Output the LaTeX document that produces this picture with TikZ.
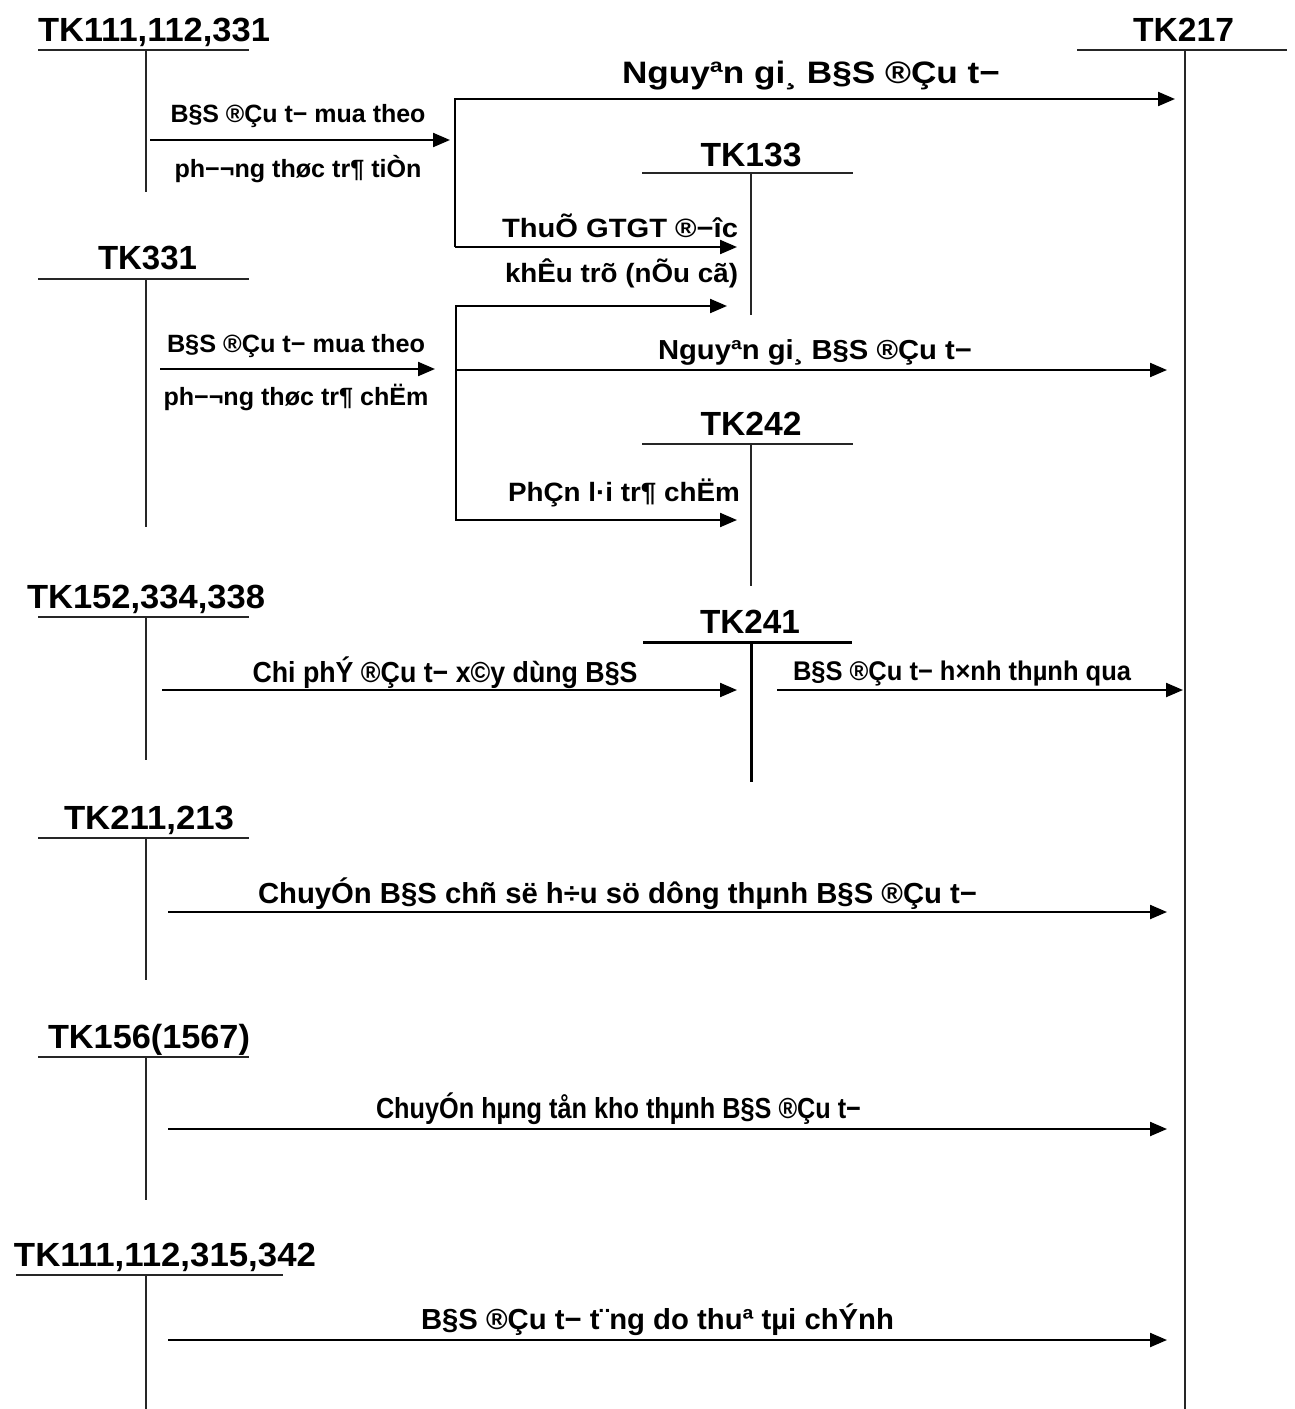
\documentclass[tikz,border=0pt]{standalone}
\usepackage{fontspec}
\setmainfont{Liberation Sans}
\usetikzlibrary{arrows.meta}
\newlength\fitlen
\newcommand\fitt[3]{\fontsize{#1}{#1}\selectfont\bfseries\settowidth\fitlen{#3}\pgfmathsetmacro\fitsx{#2/\fitlen}\scalebox{\fitsx}[1]{#3}}
\tikzset{
  hdr/.style={inner sep=0pt, anchor=base},
  lbl/.style={inner sep=0pt, anchor=base},
  tline/.style={line width=2pt, black!85},
  tthick/.style={line width=3pt, black},
  arr/.style={line width=2.2pt, -{Triangle[length=17pt,width=14pt]}},
}
\begin{document}
\begin{tikzpicture}[x=1pt,y=-1pt]
\path[use as bounding box, fill=white] (0,0) rectangle (1295,1409);

% ---- T accounts ----
\node[hdr] (h1) at (154,41) {\fitt{33.5}{232}{TK111,112,331}};
\coordinate (h1l) at (38,50); \coordinate (h1r) at (249,50);
\coordinate (h1t) at (146,50); \coordinate (h1b) at (146,192);
\draw[tline] (h1l) -- (h1r); \draw[tline] (h1t) -- (h1b);

\node[hdr] (h217) at (1183.5,41) {\fitt{33.5}{101}{TK217}};
\coordinate (h217l) at (1077,50); \coordinate (h217r) at (1287,50);
\coordinate (h217t) at (1185,50); \coordinate (h217b) at (1185,1409);
\draw[tline] (h217l) -- (h217r); \draw[tline] (h217t) -- (h217b);

\node[hdr] (h133) at (751,166) {\fitt{33.5}{101}{TK133}};
\coordinate (h133l) at (642,173); \coordinate (h133r) at (853,173);
\coordinate (h133t) at (751,173); \coordinate (h133b) at (751,315);
\draw[tline] (h133l) -- (h133r); \draw[tline] (h133t) -- (h133b);

\node[hdr] (h331) at (147.5,269) {\fitt{33.5}{99}{TK331}};
\coordinate (h331l) at (38,279); \coordinate (h331r) at (249,279);
\coordinate (h331t) at (146,279); \coordinate (h331b) at (146,527);
\draw[tline] (h331l) -- (h331r); \draw[tline] (h331t) -- (h331b);

\node[hdr] (h242) at (751,435) {\fitt{33.5}{101}{TK242}};
\coordinate (h242l) at (642,444); \coordinate (h242r) at (853,444);
\coordinate (h242t) at (751,444); \coordinate (h242b) at (751,586);
\draw[tline] (h242l) -- (h242r); \draw[tline] (h242t) -- (h242b);

\node[hdr] (h152) at (146,608) {\fitt{33.5}{238}{TK152,334,338}};
\coordinate (h152l) at (38,617); \coordinate (h152r) at (249,617);
\coordinate (h152t) at (146,617); \coordinate (h152b) at (146,760);
\draw[tline] (h152l) -- (h152r); \draw[tline] (h152t) -- (h152b);

\node[hdr] (h241) at (750,633) {\fitt{33.5}{100}{TK241}};
\coordinate (h241l) at (643,642); \coordinate (h241r) at (852,642);
\coordinate (h241t) at (751,642); \coordinate (h241b) at (751,782);
\draw[tthick] (h241l) -- (h241r); \draw[tthick] (h241t) -- (h241b);

\node[hdr] (h211) at (149,829) {\fitt{33.5}{170}{TK211,213}};
\coordinate (h211l) at (38,838); \coordinate (h211r) at (249,838);
\coordinate (h211t) at (146,838); \coordinate (h211b) at (146,980);
\draw[tline] (h211l) -- (h211r); \draw[tline] (h211t) -- (h211b);

\node[hdr] (h156) at (149,1048) {\fitt{33.5}{202}{TK156(1567)}};
\coordinate (h156l) at (38,1057); \coordinate (h156r) at (249,1057);
\coordinate (h156t) at (146,1057); \coordinate (h156b) at (146,1200);
\draw[tline] (h156l) -- (h156r); \draw[tline] (h156t) -- (h156b);

\node[hdr] (h342) at (165,1266) {\fitt{33.5}{302}{TK111,112,315,342}};
\coordinate (h342l) at (16,1275); \coordinate (h342r) at (283,1275);
\coordinate (h342t) at (146,1275); \coordinate (h342b) at (146,1409);
\draw[tline] (h342l) -- (h342r); \draw[tline] (h342t) -- (h342b);

% ---- arrows ----
\coordinate (a1s) at (150,140); \coordinate (a1e) at (450,140);
\draw[arr] (a1s) -- (a1e);
\coordinate (c1t) at (455,99); \coordinate (c1b) at (455,247);
\coordinate (e1top) at (1175,99); \coordinate (e1bot) at (737,247);
\draw[arr] (c1b) -- (c1t) -- (e1top);
\draw[arr] (c1b) -- (e1bot);

\coordinate (a2s) at (160,369); \coordinate (a2e) at (435,369);
\draw[arr] (a2s) -- (a2e);
\coordinate (c2t) at (456,306); \coordinate (c2m) at (456,370); \coordinate (c2b) at (456,520);
\coordinate (e2top) at (727,306); \coordinate (e2mid) at (1167,370); \coordinate (e2bot) at (737,520);
\draw[arr] (c2m) -- (c2t) -- (e2top);
\draw[arr] (c2m) -- (e2mid);
\draw[arr] (c2m) -- (c2b) -- (e2bot);

\coordinate (a3s) at (162,690); \coordinate (a3e) at (737,690);
\draw[arr] (a3s) -- (a3e);
\coordinate (a4s) at (777,690); \coordinate (a4e) at (1183,690);
\draw[arr] (a4s) -- (a4e);
\coordinate (a5s) at (168,912); \coordinate (a5e) at (1167,912);
\draw[arr] (a5s) -- (a5e);
\coordinate (a6s) at (168,1129); \coordinate (a6e) at (1167,1129);
\draw[arr] (a6s) -- (a6e);
\coordinate (a7s) at (168,1340); \coordinate (a7e) at (1167,1340);
\draw[arr] (a7s) -- (a7e);

% ---- labels ----
\node[lbl] (l1a) at (298,122) {\fitt{25}{255}{B§S ®Çu t− mua theo}};
\node[lbl] (l1b) at (298,177) {\fitt{25}{247}{ph−¬ng thøc tr¶ tiÒn}};
\node[lbl] (ltop) at (811,83) {\fitt{31}{378}{Nguyªn gi¸ B§S ®Çu t−}};
\node[lbl] (lthue) at (620,237) {\fitt{26.5}{236}{ThuÕ GTGT ®−îc}};
\node[lbl] (lkhau) at (621.5,282) {\fitt{26.5}{233}{khÊu trõ (nÕu cã)}};
\node[lbl] (l2a) at (296,352) {\fitt{25}{258}{B§S ®Çu t− mua theo}};
\node[lbl] (l2b) at (296,405) {\fitt{25}{265}{ph−¬ng thøc tr¶ chËm}};
\node[lbl] (lmid) at (815,359) {\fitt{27.5}{314}{Nguyªn gi¸ B§S ®Çu t−}};
\node[lbl] (lphan) at (624,501) {\fitt{26.5}{232}{PhÇn l·i tr¶ chËm}};
\node[lbl] (lchi) at (445,682) {\fitt{29}{385}{Chi phÝ ®Çu t− x©y dùng B§S}};
\node[lbl] (lhinh) at (962,680) {\fitt{27}{338}{B§S ®Çu t− h×nh thµnh qua}};
\node[lbl] (lchu1) at (617.5,903) {\fitt{29}{719}{ChuyÓn B§S chñ së h÷u sö dông thµnh B§S ®Çu t−}};
\node[lbl] (lchu2) at (618.5,1118) {\fitt{29}{485}{ChuyÓn hµng tån kho thµnh B§S ®Çu t−}};
\node[lbl] (ltang) at (657.5,1329) {\fitt{29}{473}{B§S ®Çu t− t¨ng do thuª tµi chÝnh}};
\end{tikzpicture}
\end{document}
